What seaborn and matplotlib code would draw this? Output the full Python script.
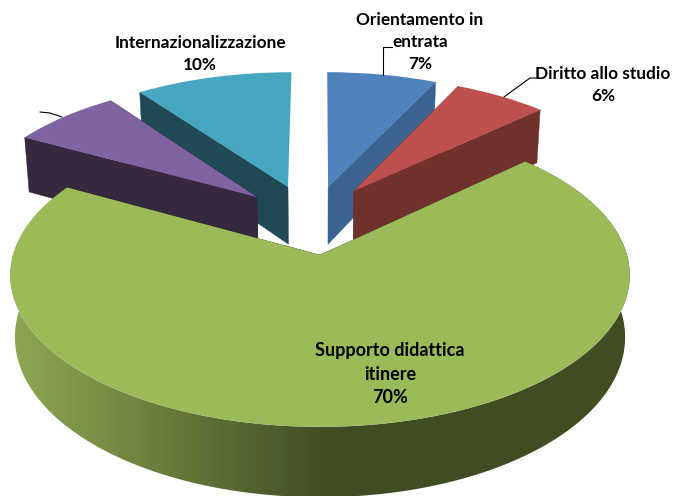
import numpy as np
import matplotlib
matplotlib.use('Agg')
import matplotlib.pyplot as plt
from matplotlib.colors import to_rgb
from matplotlib.patches import Polygon
from matplotlib.transforms import Transform
import seaborn as sns

# hidden label on the purple slice is blanked out in the reference
categories = ['Orientamento in\nentrata', 'Diritto allo studio', 'Supporto didattica\nitinere', '', 'Internazionalizzazione']
values = [7, 6, 70, 7, 10]
pct_labels = ['7%', '6%', '70%', '', '10%']

top_colors = ['#4F81BD', '#BF504D', '#9BBB59', '#8064A2', '#47A7C1']
wall_colors = ['#3A6391', '#70302E', '#404C22', '#35283F', '#1F4A55']

# how far each slice is pulled out of the pie (in pie units)
pull_x = [0.028, 0.117, 0.0, -0.216, -0.111]
pull_y = [0.486, 0.456, 0.0, 0.41, 0.486]
radii = [0.98, 0.97, 1.0, 0.98, 0.98]
draw_order = [4, 3, 0, 1, 2]

label_x = [420, 603, 390, 0, 200]
label_y = [42, 85, 374, 0, 54]
label_size = [12.4, 12.4, 13.0, 0, 12.4]

# leader lines, pixels
leaders = [([383, 383, 392], [75, 47, 47]),
           ([504, 530, 536], [97, 78, 78]),
           ([62, 50, 40], [117, 113, 112])]

CX, CY = 320, 255
RX, RY = 307, 149
TILT = 0.133
DEPTH = 61
SHRINK = 0.985


def project(xy):
    # pie plane to pixels, far side gets squeezed
    xy = np.asarray(xy, dtype=float)
    s = 1 / (1 + TILT * xy[:, 1])
    return np.column_stack([CX + RX * xy[:, 0] * s, CY - RY * xy[:, 1] * s])


def drop(xy):
    # same points on the underside of the pie
    px = project(xy)
    s = 1 / (1 + TILT * np.asarray(xy)[:, 1])
    return np.column_stack([CX + (px[:, 0] - CX) * SHRINK, px[:, 1] + DEPTH * s])


class Perspective(Transform):
    input_dims = 2
    output_dims = 2

    def transform_non_affine(self, values):
        return project(values)


sns.set_theme(style='white')
plt.rcParams['font.family'] = ['Lato', 'DejaVu Sans']

fig = plt.figure(figsize=(6.74, 4.96), dpi=100)
ax = fig.add_axes([0, 0, 1, 1])
palette = sns.color_palette(top_colors)
wedges, _ = ax.pie(values, colors=palette, startangle=90, counterclock=False, wedgeprops={'linewidth': 0})

# horizontal shading of the big slice's wall
t = np.clip((np.arange(674) - 15) / (330 - 15), 0, 1)[:, None]
shade = (1 - t) * np.array(to_rgb('#8DA853')) + t * np.array(to_rgb('#404C22'))

persp = Perspective() + ax.transData
z = 2
for i in draw_order:
    w = wedges[i]
    c = np.array([pull_x[i], pull_y[i]])
    w.set_center(tuple(c))
    w.set_radius(radii[i])
    w.set_transform(persp)
    w.set_clip_on(False)

    theta = np.radians(np.linspace(w.theta1, w.theta2, 300))
    rim = c + radii[i] * np.column_stack([np.cos(theta), np.sin(theta)])
    rim_top, rim_bot = project(rim), drop(rim)
    apex_top, apex_bot = project([c]), drop([c])

    # cut faces, the almost vertical ones would only leave a dark sliver
    for k in [0, -1]:
        if abs(rim_top[k, 0] - apex_top[0, 0]) < 5:
            continue
        quad = np.vstack([apex_top, rim_top[k], rim_bot[k], apex_bot])
        ax.fill(quad[:, 0], quad[:, 1], color=wall_colors[i], lw=0.3, zorder=z)
    # only the big slice shows its outer curved wall
    if i == 2:
        outline = np.vstack([rim_top, rim_bot[::-1]])
        im = ax.imshow(shade[None, :, :], extent=(0, 674, 496, 0), aspect='auto', zorder=z)
        im.set_clip_path(Polygon(outline, transform=ax.transData))
    w.set_zorder(z + 1)
    z += 2

ax.set_aspect('auto')
ax.set_xlim(0, 674)
ax.set_ylim(496, 0)
ax.axis('off')

for lx, ly in leaders:
    ax.plot(lx, ly, color='black', lw=0.8, zorder=z)

for i in range(len(values)):
    if not categories[i]:
        continue
    ax.text(label_x[i], label_y[i], categories[i] + '\n' + pct_labels[i], ha='center', va='center',
            fontsize=label_size[i], fontweight='bold', color='black', linespacing=1.43, zorder=z + 1)

plt.savefig('out.png', dpi=100)
plt.close()
